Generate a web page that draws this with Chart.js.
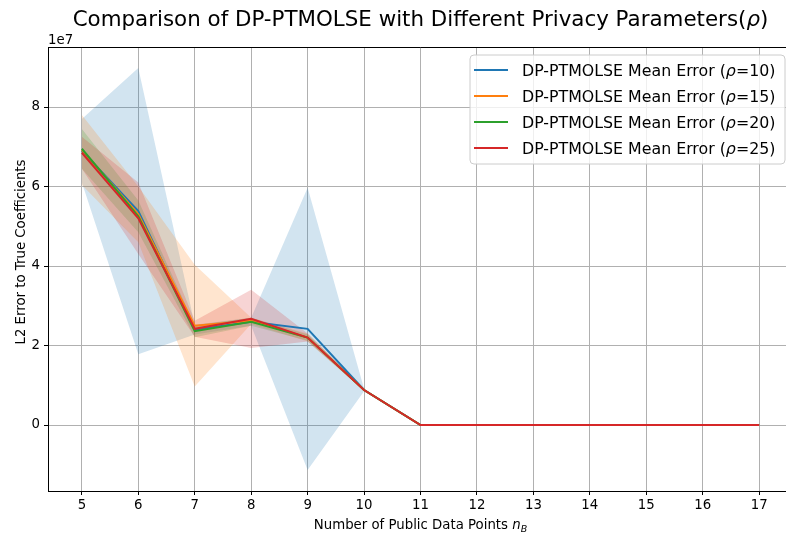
<!DOCTYPE html>
<html>
<head>
<meta charset="utf-8">
<script src="https://cdn.jsdelivr.net/npm/chart.js@4.4.1/dist/chart.umd.min.js"></script>
<style>
  html, body { margin: 0; padding: 0; background: #fff; overflow: hidden; }
  #wrap { width: 786px; height: 538px; overflow: hidden; }
  #chart { width: 800px; height: 538px; }
</style>
</head>
<body>
<div id="wrap"><canvas id="chart" width="800" height="538"></canvas></div>
<script>
// values in units of 1e7
const nB = [5, 6, 7, 8, 9, 10, 11, 12, 13, 14, 15, 16, 17];

const meanRho10 = [6.90, 5.38, 2.40, 2.60, 2.42, 0.88, 0, 0, 0, 0, 0, 0, 0];
const meanRho15 = [6.92, 5.30, 2.50, 2.62, 2.20, 0.88, 0, 0, 0, 0, 0, 0, 0];
const meanRho20 = [6.95, 5.25, 2.36, 2.60, 2.20, 0.88, 0, 0, 0, 0, 0, 0, 0];
const meanRho25 = [6.85, 5.20, 2.42, 2.67, 2.20, 0.88, 0, 0, 0, 0, 0, 0, 0];

const stdRho10 = [0.80, 3.60, 0.12, 0.10, 3.55, 0.03, 0, 0, 0, 0, 0, 0, 0];
const stdRho15 = [0.88, 0.70, 1.53, 0.08, 0.10, 0.02, 0, 0, 0, 0, 0, 0, 0];
const stdRho20 = [0.50, 0.40, 0.15, 0.10, 0.08, 0.02, 0, 0, 0, 0, 0, 0, 0];
const stdRho25 = [0.40, 0.90, 0.20, 0.73, 0.10, 0.02, 0, 0, 0, 0, 0, 0, 0];

const yTicks = [0, 2, 4, 6, 8];
const rhoLabels = ['10', '15', '20', '25'];
const COLORS = ['#1f77b4', '#ff7f0e', '#2ca02c', '#d62728'];
const FILLS = ['rgba(31,119,180,0.2)', 'rgba(255,127,14,0.2)', 'rgba(44,160,44,0.2)', 'rgba(214,39,40,0.2)'];
const FONT = '"DejaVu Sans", sans-serif';

const means = [meanRho10, meanRho15, meanRho20, meanRho25];
const stds = [stdRho10, stdRho15, stdRho20, stdRho25];

const pts = (arr) => nB.map((x, i) => ({ x, y: arr[i] * 1e7 }));

function buildDatasets() {
  const sets = [];
  means.forEach((m, k) => {
    const upper = m.map((v, i) => v + stds[k][i]);
    const lower = m.map((v, i) => v - stds[k][i]);
    sets.push({ data: pts(upper), borderWidth: 0, borderColor: 'rgba(0,0,0,0)', backgroundColor: FILLS[k], fill: '+1', pointRadius: 0, order: 13 - k });
    sets.push({ data: pts(lower), borderWidth: 0, borderColor: 'rgba(0,0,0,0)', fill: false, pointRadius: 0, order: 13 - k });
  });
  means.forEach((m, k) => {
    sets.push({ data: pts(m), borderColor: COLORS[k], borderWidth: 2, fill: false, pointRadius: 0, order: 3 - k });
  });
  return sets;
}

// text with italic pieces: [{t, it, size, dy}]
function richWidth(ctx, parts, size) {
  return parts.reduce((w, p) => {
    ctx.font = `${p.it ? 'italic ' : ''}${p.size || size}px ${FONT}`;
    return w + ctx.measureText(p.t).width;
  }, 0);
}
function drawRich(ctx, parts, x, y, size, align) {
  const w = richWidth(ctx, parts, size);
  let cx = align === 'center' ? x - w / 2 : x;
  ctx.textAlign = 'left';
  ctx.textBaseline = 'alphabetic';
  parts.forEach((p) => {
    ctx.font = `${p.it ? 'italic ' : ''}${p.size || size}px ${FONT}`;
    ctx.fillText(p.t, cx, y + (p.dy || 0));
    cx += ctx.measureText(p.t).width;
  });
}

const decorations = {
  id: 'decorations',
  afterDraw(chart) {
    const { ctx, chartArea: a } = chart;
    ctx.save();
    ctx.fillStyle = '#000';

    // top spine
    ctx.strokeStyle = '#000';
    ctx.lineWidth = 1;
    ctx.beginPath();
    ctx.moveTo(a.left, a.top + 0.5);
    ctx.lineTo(a.right, a.top + 0.5);
    ctx.stroke();

    const midX = (a.left + a.right) / 2;
    drawRich(ctx, [{ t: 'Comparison of DP-PTMOLSE with Different Privacy Parameters(' }, { t: 'ρ', it: true }, { t: ')' }], midX, 26, 21.4, 'center');
    drawRich(ctx, [{ t: '1e7' }], a.left, 44, 13.3, 'left');
    drawRich(ctx, [{ t: 'Number of Public Data Points ' }, { t: 'n', it: true }, { t: 'B', it: true, size: 9.5, dy: 3 }], midX, 529, 13.3, 'center');

    ctx.save();
    ctx.translate(25, 252);
    ctx.rotate(-Math.PI / 2);
    drawRich(ctx, [{ t: 'L2 Error to True Coefficients' }], 0, 0, 13.3, 'center');
    ctx.restore();

    // legend
    const bx = 470, by = 55, bw = 315, bh = 109, r = 4;
    ctx.beginPath();
    ctx.moveTo(bx + r, by);
    ctx.arcTo(bx + bw, by, bx + bw, by + bh, r);
    ctx.arcTo(bx + bw, by + bh, bx, by + bh, r);
    ctx.arcTo(bx, by + bh, bx, by, r);
    ctx.arcTo(bx, by, bx + bw, by, r);
    ctx.closePath();
    ctx.fillStyle = 'rgba(255,255,255,0.8)';
    ctx.fill();
    ctx.strokeStyle = '#cccccc';
    ctx.stroke();

    rhoLabels.forEach((rho, k) => {
      const cy = 70 + k * 26;
      ctx.strokeStyle = COLORS[k];
      ctx.lineWidth = 2;
      ctx.beginPath();
      ctx.moveTo(474, cy);
      ctx.lineTo(508, cy);
      ctx.stroke();
      ctx.fillStyle = '#000';
      drawRich(ctx, [{ t: 'DP-PTMOLSE Mean Error (' }, { t: 'ρ', it: true }, { t: `=${rho})` }], 522, cy + 6, 15.8, 'left');
    });
    ctx.restore();
  },
};

new Chart(document.getElementById('chart'), {
  type: 'line',
  data: { datasets: buildDatasets() },
  options: {
    responsive: false,
    animation: false,
    events: [],
    layout: { padding: { top: 47, right: 7, left: 0, bottom: 0 } },
    plugins: { legend: { display: false }, tooltip: { enabled: false }, filler: { drawTime: 'beforeDatasetsDraw' } },
    elements: { line: { tension: 0 } },
    scales: {
      x: {
        type: 'linear',
        min: 4.4,
        max: 17.6,
        afterBuildTicks: (s) => { s.ticks = nB.map((v) => ({ value: v })); },
        afterFit: (s) => { s.height = 47; },
        grid: { color: '#b0b0b0', lineWidth: 1, tickColor: '#000', tickLength: 4 },
        border: { color: '#000', width: 1 },
        ticks: { color: '#000', font: { family: FONT, size: 13.3 }, padding: 3, maxRotation: 0, autoSkip: false, callback: (v) => String(v) },
      },
      y: {
        type: 'linear',
        min: -1.66e7,
        max: 9.51e7,
        afterBuildTicks: (s) => { s.ticks = yTicks.map((v) => ({ value: v * 1e7 })); },
        afterFit: (s) => { s.width = 48; },
        grid: { color: '#b0b0b0', lineWidth: 1, tickColor: '#000', tickLength: 4 },
        border: { color: '#000', width: 1 },
        ticks: { color: '#000', font: { family: FONT, size: 13.3 }, padding: 4, callback: (v) => String(Math.round(v / 1e7)) },
      },
    },
  },
  plugins: [decorations],
});
</script>
</body>
</html>
